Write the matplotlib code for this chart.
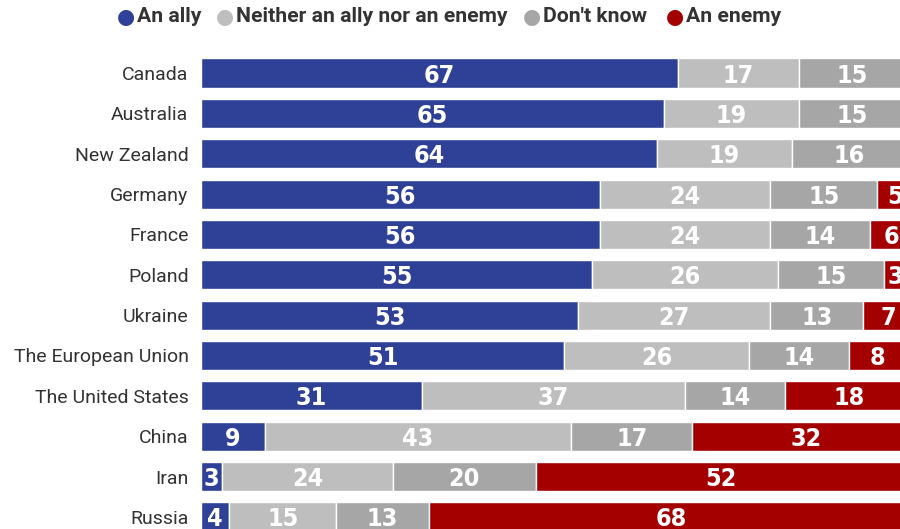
import numpy as np
import matplotlib
matplotlib.use('Agg')
import matplotlib.pyplot as plt
from matplotlib import font_manager

countries = ["Canada", "Australia", "New Zealand", "Germany", "France", "Poland",
             "Ukraine", "The European Union", "The United States", "China", "Iran", "Russia"]
ally = [67, 65, 64, 56, 56, 55, 53, 51, 31, 9, 3, 4]
neither = [17, 19, 19, 24, 24, 26, 27, 26, 37, 43, 24, 15]
dont_know = [15, 15, 16, 15, 14, 15, 13, 14, 14, 17, 20, 13]
enemy = [0, 0, 0, 5, 6, 3, 7, 8, 18, 32, 52, 68]
series_names = ["An ally", "Neither an ally nor an enemy", "Don't know", "An enemy"]
colors = ["#2f4196", "#bebebe", "#a6a6a6", "#a50000"]

# condensed bold face for the numbers, if there is one
cond = [f.fname for f in font_manager.fontManager.ttflist
        if 'Condensed' in f.fname and 'Bold' in f.fname and 'DejaVuSans' in f.fname
        and 'Oblique' not in f.fname]
if cond:
    num_prop = font_manager.FontProperties(fname=cond[0], size=18)
else:
    num_prop = font_manager.FontProperties(family='DejaVu Sans', weight='bold', size=17)

fig = plt.figure(figsize=(9, 5.29), dpi=100)
ax = fig.add_axes([201/900, 0, 699/900, (529-40)/529])

y = np.arange(len(countries))
left = np.zeros(len(countries))
for vals, col in zip([ally, neither, dont_know, enemy], colors):
    vals = np.array(vals)
    ax.barh(y, vals, left=left, height=0.72, color=col, edgecolor='white', linewidth=1)
    for yi, (l, v) in enumerate(zip(left, vals)):
        if v > 0:
            ax.text(l + v/2, yi, str(v), ha='center', va='center_baseline',
                    fontproperties=num_prop, color='white')
    left = left + vals

ax.set_xlim(0, 98.2)
ax.set_ylim(11.30, -0.818)
ax.set_yticks(y)
ax.set_yticklabels(countries, fontsize=14, color='#333333', family=['Roboto', 'DejaVu Sans'])
ax.tick_params(axis='y', length=0, pad=9)
ax.set_xticks([])
for s in ax.spines.values():
    s.set_visible(False)

# legend across the top
leg_x = [126, 225, 532, 675]
for name, col, lx in zip(series_names, colors, leg_x):
    fig.text(lx/900, 1 - 17/529, u"\u25CF", color=col, fontsize=15, ha='center', va='center')
    fig.text((lx + 11)/900, 1 - 17/529, name, color='#333333', fontsize=15.2, weight='bold',
             family=['Roboto', 'DejaVu Sans'], ha='left', va='center')

fig.savefig('out.png', dpi=100)
